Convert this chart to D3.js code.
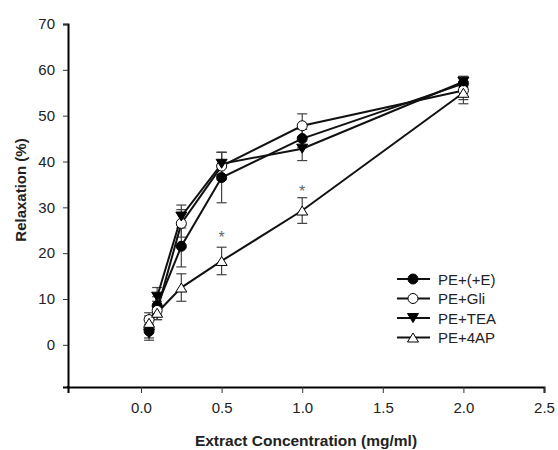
<!DOCTYPE html>
<html><head><meta charset="utf-8">
<script src="https://cdn.jsdelivr.net/npm/d3@7"></script>
<style>body{margin:0;background:#fff}svg{display:block}</style>
</head><body>
<svg id="c" width="558" height="450"></svg>
<script>
const conc = [0.05, 0.1, 0.25, 0.5, 1.0, 2.0];
const seriesNames = ["PE+(+E)", "PE+Gli", "PE+TEA", "PE+4AP"];
const valsE   = [3.0, 8.5, 21.5, 36.5, 45.0, 57.0];
const errE    = [1.5, 2.0, 4.5, 5.5, 2.0, 1.5];
const valsGli = [5.5, 7.5, 26.5, 39.0, 47.8, 55.5];
const errGli  = [1.5, 2.0, 3.0, 3.0, 2.6, 2.0];
const valsTEA = [2.5, 10.5, 28.0, 39.5, 42.8, 57.4];
const errTEA  = [1.5, 2.0, 2.5, 2.5, 2.6, 1.2];
const vals4AP = [4.8, 7.0, 12.5, 18.3, 29.3, 55.0];
const err4AP  = [1.5, 1.5, 3.0, 3.0, 2.8, 2.4];
const starX = [0.5, 1.0];
const starY = [24, 34];
const xTicks = [0.0, 0.5, 1.0, 1.5, 2.0, 2.5];
const yTicks = [0, 10, 20, 30, 40, 50, 60, 70];

const FONT = "Liberation Sans, Arial, sans-serif";
const svg = d3.select("#c");
const x = d3.scaleLinear().domain([-0.453, 2.5]).range([68, 544]);
const y = d3.scaleLinear().domain([-9.2, 70]).range([387, 24]);

// axes
const xAx = svg.append("g").attr("transform","translate(0,387)")
  .call(d3.axisBottom(x).tickValues(xTicks).tickFormat(d3.format(".1f")).tickSizeOuter(0).tickSize(6).tickPadding(9));
const yAx = svg.append("g").attr("transform","translate(68,0)")
  .call(d3.axisLeft(y).tickValues(yTicks).tickFormat(d3.format("d")).tickSizeOuter(0).tickSize(5).tickPadding(8));
[xAx, yAx].forEach(g => {
  g.select(".domain").attr("stroke","#000").attr("stroke-width",2);
  g.selectAll(".tick line").attr("stroke","#333").attr("stroke-width",1);
  g.selectAll(".tick text").attr("font-family",FONT).attr("font-size",15).attr("fill","#222");
});
svg.append("line").attr("x1",67).attr("x2",68).attr("y1",y(-9.2)).attr("y2",y(-9.2)).attr("stroke","#000").attr("stroke-width",2);

svg.append("text").attr("x",306).attr("y",446).attr("text-anchor","middle")
  .attr("font-family",FONT).attr("font-weight","bold").attr("font-size",15.5).attr("fill","#222")
  .text("Extract Concentration (mg/ml)");
svg.append("text").attr("transform","translate(26,190) rotate(-90)").attr("text-anchor","middle")
  .attr("font-family",FONT).attr("font-weight","bold").attr("font-size",15).attr("fill","#222")
  .text("Relaxation (%)");

const series = [
  {name: seriesNames[0], v: valsE, e: errE, sym: "circle", fill: "#000"},
  {name: seriesNames[1], v: valsGli, e: errGli, sym: "circle", fill: "#fff"},
  {name: seriesNames[2], v: valsTEA, e: errTEA, sym: "down", fill: "#000"},
  {name: seriesNames[3], v: vals4AP, e: err4AP, sym: "up", fill: "#fff"}
];

function drawSym(g, s, cx, cy) {
  if (s.sym === "circle") {
    g.append("circle").attr("cx",cx).attr("cy",cy).attr("r",5)
      .attr("fill",s.fill).attr("stroke","#000").attr("stroke-width",1);
  } else {
    const h = 9, w = 11;
    let pts;
    if (s.sym === "down") pts = [[cx-w/2, cy-h/2],[cx+w/2, cy-h/2],[cx, cy+h/2]];
    else pts = [[cx-w/2, cy+h/2],[cx+w/2, cy+h/2],[cx, cy-h/2]];
    g.append("polygon").attr("points", pts.map(p=>p.join(",")).join(" "))
      .attr("fill",s.fill).attr("stroke","#000").attr("stroke-width",1);
  }
}

const line = d3.line().x((d,i)=>x(conc[i])).y(d=>y(d));
series.forEach(s => {
  const g = svg.append("g");
  s.v.forEach((v,i) => {
    const cx = x(conc[i]);
    g.append("line").attr("x1",cx).attr("x2",cx).attr("y1",y(v - s.e[i])).attr("y2",y(v + s.e[i])).attr("stroke","#444").attr("stroke-width",1.2);
    [v - s.e[i], v + s.e[i]].forEach(yy => g.append("line").attr("x1",cx-5).attr("x2",cx+5).attr("y1",y(yy)).attr("y2",y(yy)).attr("stroke","#444").attr("stroke-width",1.2));
  });
});
series.forEach(s => {
  svg.append("path").attr("d", line(s.v)).attr("fill","none").attr("stroke","#111").attr("stroke-width",2);
});
series.forEach(s => {
  const g = svg.append("g");
  s.v.forEach((v,i) => drawSym(g, s, x(conc[i]), y(v)));
});
starX.forEach((sx,i) => {
  svg.append("text").attr("x",x(sx)).attr("y",y(starY[i])+8).attr("text-anchor","middle")
    .attr("font-family",FONT).attr("font-size",16).attr("fill","#666").text("*");
});

const legY = [279, 298.5, 318, 337.5];
series.forEach((s,i) => {
  const g = svg.append("g");
  g.append("line").attr("x1",397).attr("x2",430).attr("y1",legY[i]).attr("y2",legY[i]).attr("stroke","#111").attr("stroke-width",2);
  drawSym(g, s, 413, legY[i]);
  g.append("text").attr("x",438).attr("y",legY[i]+5.5).attr("font-family",FONT)
    .attr("font-size",15).attr("fill","#222").text(s.name);
});
</script>
</body></html>
